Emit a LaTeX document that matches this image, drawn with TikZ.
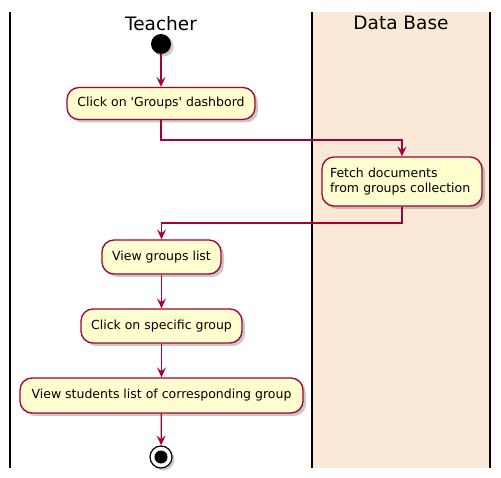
\documentclass[tikz,border=0pt]{standalone}
\usepackage{fontspec}
\setmainfont{DejaVu Sans}
\usetikzlibrary{arrows.meta,shadows}
\definecolor{actfill}{HTML}{FEFECE}
\definecolor{actline}{HTML}{A80036}
\definecolor{lanebg}{HTML}{FAE9D6}
\tikzset{
  act/.style={draw=actline, fill=actfill, line width=1.3pt, rounded corners=12pt,
    font=\fontsize{12.5}{15}\selectfont, inner sep=0pt, align=center,
    drop shadow={shadow xshift=3pt, shadow yshift=-3pt, opacity=0.35, fill=black!60}},
  flow/.style={color=actline, line width=1.3pt, -{Stealth[length=10pt,width=9pt,inset=4pt]}},
  lane/.style={draw=black, line width=1.8pt},
  lanetitle/.style={font=\fontsize{18.5}{20}\selectfont},
  startnode/.style={circle, fill=black, minimum size=20pt, inner sep=0pt,
    drop shadow={shadow xshift=2.5pt, shadow yshift=-2.5pt, opacity=0.35, fill=black!60}},
  stopnode/.style={circle, draw=black, line width=1.2pt, fill=white, minimum size=22pt, inner sep=0pt,
    drop shadow={shadow xshift=2.5pt, shadow yshift=-2.5pt, opacity=0.35, fill=black!60}},
}
\begin{document}
\begin{tikzpicture}[x=1pt,y=-1pt]
\useasboundingbox (0,0) rectangle (501,478);
\fill[white] (0,0) rectangle (501,478);
% lanes
\fill[lanebg] (312,12) rectangle (490,468);
\draw[lane] (10,12) -- (10,468);
\draw[lane] (312,12) -- (312,468);
\draw[lane] (490,12) -- (490,468);
\node[lanetitle] (t1) at (161,23.5) {Teacher};
\node[lanetitle] (t2) at (401,22.5) {Data Base};
% nodes
\node[startnode] (start) at (161,44) {};
\node[act, minimum width=188pt, minimum height=32pt] (a1) at (161,103.5) {Click on \textquotesingle Groups\textquotesingle{} dashbord};
\node[act, minimum width=160pt, minimum height=49pt, align=left, text width=144pt] (a2) at (402,181.5) {Fetch documents\\from groups collection};
\node[act, minimum width=119pt, minimum height=34pt] (a3) at (161.5,257) {View groups list};
\node[act, minimum width=161pt, minimum height=34pt] (a4) at (161.5,326) {Click on specific group};
\node[act, minimum width=283pt, minimum height=35pt] (a5) at (161.5,395.5) {View students list of corresponding group};
\node[stopnode] (stop) at (161,457) {};
\node[circle, fill=black, minimum size=13pt, inner sep=0pt] (stopin) at (stop) {};
\coordinate (j1) at (0,140);
\coordinate (j2) at (0,223);
% connectors
\draw[flow] (start) -- (a1);
\draw[flow] (a1.south) -- (a1.south |- j1) -| (a2.north);
\draw[flow] (a2.south) -- (a2.south |- j2) -| (a3.north);
\draw[flow] (a3) -- (a4);
\draw[flow] (a4) -- (a5);
\draw[flow] (a5) -- (stop);
\end{tikzpicture}
\end{document}
